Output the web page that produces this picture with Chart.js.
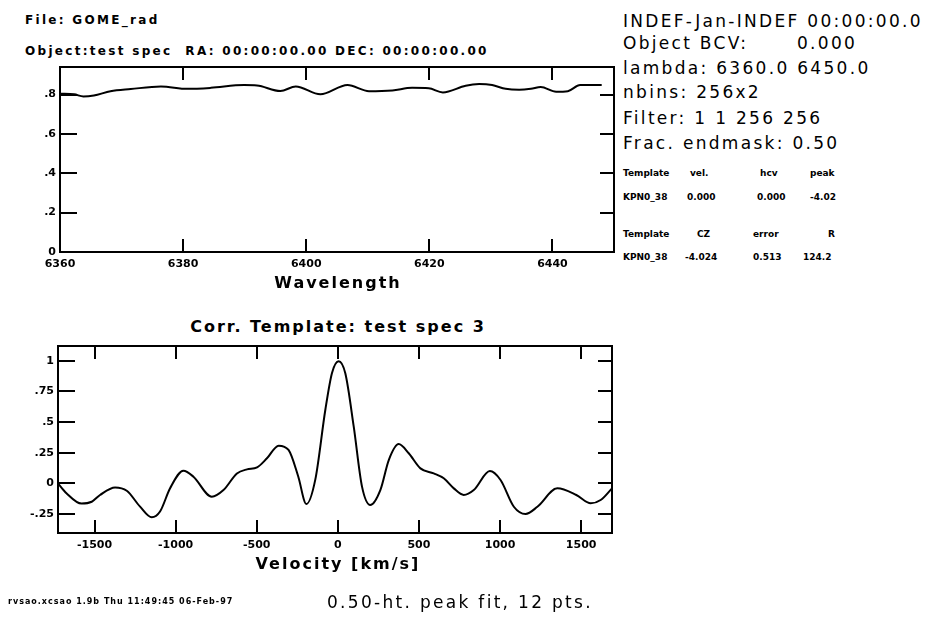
<!DOCTYPE html>
<html>
<head>
<meta charset="utf-8">
<script src="https://cdn.jsdelivr.net/npm/chart.js@4.4.1/dist/chart.umd.min.js"></script>
<style>
  html, body { margin: 0; padding: 0; background: #fff; }
  #page { position: relative; width: 927px; height: 618px; overflow: hidden; background: #fff; color: #000; }
  #page canvas { position: absolute; left: 0; }
  .t { position: absolute; white-space: pre; line-height: 1; font-family: 'DejaVu Sans', sans-serif; }
  .big { font-size: 17px; letter-spacing: 2.3px; }
  .hdr { font-size: 12px; font-weight: bold; letter-spacing: 2.3px; }
  .tbl { font-size: 9px; font-weight: bold; }
  .lbl { font-size: 16px; font-weight: bold; letter-spacing: 2px; text-align: center; }
  .tiny { font-size: 8px; font-weight: bold; letter-spacing: 1px; }
</style>
</head>
<body>
<div id="page">
  <div class="t hdr" style="left:25px; top:14px;">File: GOME_rad</div>
  <div class="t hdr" style="left:25px; top:45px;">Object:test spec  RA: 00:00:00.00 DEC: 00:00:00.00</div>

  <div class="t big" style="left:623px; top:13px;">INDEF-Jan-INDEF 00:00:00.0</div>
  <div class="t big" style="left:623px; top:35px;">Object BCV:</div>
  <div class="t big" style="left:797px; top:35px;">0.000</div>
  <div class="t big" style="left:623px; top:60px;">lambda: 6360.0 6450.0</div>
  <div class="t big" style="left:623px; top:84px;">nbins: 256x2</div>
  <div class="t big" style="left:623px; top:110px;">Filter: 1 1 256 256</div>
  <div class="t big" style="left:623px; top:135px;">Frac. endmask: 0.50</div>

  <div class="t tbl" style="left:623px; top:169px;">Template</div>
  <div class="t tbl" style="left:690px; top:169px;">vel.</div>
  <div class="t tbl" style="left:760px; top:169px;">hcv</div>
  <div class="t tbl" style="left:810px; top:169px;">peak</div>
  <div class="t tbl" style="left:623px; top:193px;">KPN0_38</div>
  <div class="t tbl" style="left:687px; top:193px;">0.000</div>
  <div class="t tbl" style="left:757px; top:193px;">0.000</div>
  <div class="t tbl" style="left:810px; top:193px;">-4.02</div>
  <div class="t tbl" style="left:623px; top:230px;">Template</div>
  <div class="t tbl" style="left:697px; top:230px;">CZ</div>
  <div class="t tbl" style="left:753px; top:230px;">error</div>
  <div class="t tbl" style="left:828px; top:230px;">R</div>
  <div class="t tbl" style="left:623px; top:253px;">KPN0_38</div>
  <div class="t tbl" style="left:685px; top:253px;">-4.024</div>
  <div class="t tbl" style="left:753px; top:253px;">0.513</div>
  <div class="t tbl" style="left:803px; top:253px;">124.2</div>

  <canvas id="specChart" width="640" height="300" style="top:0px;"></canvas>
  <div class="t lbl" style="left:0px; width:676px; top:275px;">Wavelength</div>

  <div class="t lbl" style="left:0px; width:676px; top:319px;">Corr. Template: test spec 3</div>
  <canvas id="corrChart" width="640" height="300" style="top:300px;"></canvas>
  <div class="t lbl" style="left:0px; width:676px; top:556px;">Velocity [km/s]</div>

  <div class="t tiny" style="left:8px; top:598px;">rvsao.xcsao 1.9b Thu 11:49:45 06-Feb-97</div>
  <div class="t big" style="left:327px; top:594px;">0.50-ht. peak fit, 12 pts.</div>
</div>

<script>
// spectrum (upper panel)
const wavelength = [6360.0, 6362.3, 6363.8, 6365.5, 6368.2, 6371.5, 6376.4, 6380.7, 6384.5, 6389.9,
  6392.0, 6395.8, 6398.3, 6402.3, 6406.7, 6410.2, 6414.0, 6417.2, 6419.9, 6422.2,
  6425.9, 6428.1, 6430.2, 6432.4, 6434.6, 6436.5, 6438.1, 6440.6, 6442.5, 6444.5, 6448.0];
const flux = [0.804, 0.801, 0.790, 0.795, 0.817, 0.828, 0.841, 0.829, 0.834, 0.848,
  0.846, 0.818, 0.841, 0.801, 0.848, 0.817, 0.821, 0.834, 0.832, 0.811,
  0.845, 0.853, 0.848, 0.829, 0.824, 0.829, 0.838, 0.814, 0.817, 0.848, 0.848];

// cross-correlation (lower panel)
const velocity = [-1725, -1673, -1580, -1517, -1466, -1373, -1301, -1219, -1147, -1096,
  -1034, -952, -890, -777, -705, -622, -560, -498, -437, -365,
  -304, -245, -194, -139, -77, -36, 5, 46, 98, 149,
  200, 262, 314, 375, 437, 509, 591, 653, 715, 776,
  838, 937, 1003, 1085, 1157, 1230, 1353, 1470, 1559, 1620, 1690];
const correlation = [0.00, -0.08, -0.165, -0.15, -0.095, -0.033, -0.06, -0.19, -0.277, -0.23,
  -0.04, 0.103, 0.054, -0.109, -0.055, 0.081, 0.114, 0.13, 0.204, 0.307,
  0.272, 0.06, -0.169, 0.03, 0.6, 0.9, 0.995, 0.897, 0.462, -0.027,
  -0.177, -0.055, 0.19, 0.32, 0.245, 0.122, 0.081, 0.041, -0.041, -0.095,
  -0.055, 0.10, 0.027, -0.191, -0.25, -0.191, -0.041, -0.095, -0.163, -0.136, -0.041];

// tick values
const specXTicks = [6360, 6380, 6400, 6420, 6440];
const specYTicks = [0, 0.2, 0.4, 0.6, 0.8];
const corrXTicks = [-1500, -1000, -500, 0, 500, 1000, 1500];
const corrYTicks = [-0.25, 0, 0.25, 0.5, 0.75, 1];

Chart.defaults.font.family = "'DejaVu Sans', sans-serif";
Chart.defaults.color = '#000';

function shortLabel(v) {
  return String(Number(v.toFixed(2))).replace(/^(-?)0\./, '$1.');
}

// frame box plus inward tick marks on all four sides
const innerTicks = {
  id: 'innerTicks',
  afterDraw(chart, args, opts) {
    const { ctx, chartArea: a } = chart;
    const x = chart.scales.x;
    const y = chart.scales.y;
    ctx.save();
    ctx.strokeStyle = '#000';
    ctx.lineWidth = 2;
    ctx.strokeRect(a.left, a.top, a.right - a.left, a.bottom - a.top);
    ctx.beginPath();
    x.ticks.forEach((t) => {
      const px = Math.round(x.getPixelForValue(t.value));
      ctx.moveTo(px, a.bottom);
      ctx.lineTo(px, a.bottom - opts.xLen);
      ctx.moveTo(px, a.top);
      ctx.lineTo(px, a.top + opts.xLen);
    });
    y.ticks.forEach((t) => {
      const py = Math.round(y.getPixelForValue(t.value));
      ctx.moveTo(a.left, py);
      ctx.lineTo(a.left + opts.yLen, py);
      ctx.moveTo(a.right, py);
      ctx.lineTo(a.right - opts.yLenRight, py);
    });
    ctx.stroke();
    ctx.restore();
  },
};

function makePlot(canvasId, xs, ys, cfg) {
  const tickFont = { size: 11, weight: 'bold' };
  return new Chart(document.getElementById(canvasId), {
    type: 'line',
    data: {
      datasets: [{
        data: xs.map((v, i) => ({ x: v, y: ys[i] })),
        borderColor: '#000',
        borderWidth: 2,
        pointRadius: 0,
        cubicInterpolationMode: 'monotone',
        fill: false,
      }],
    },
    options: {
      responsive: false,
      animation: false,
      events: [],
      layout: { padding: { top: cfg.top, right: cfg.right, left: 0, bottom: 0 } },
      plugins: {
        legend: { display: false },
        tooltip: { enabled: false },
        innerTicks: { xLen: 13, yLen: 17, yLenRight: 14 },
      },
      scales: {
        x: {
          type: 'linear',
          min: cfg.xMin,
          max: cfg.xMax,
          afterBuildTicks: (s) => { s.ticks = cfg.xTicks.map((v) => ({ value: v })); },
          afterFit: (s) => { s.height = cfg.xHeight; },
          grid: { display: false, drawTicks: false },
          border: { display: false },
          ticks: { font: tickFont, padding: 6, maxRotation: 0, autoSkip: false, callback: (v) => String(v) },
        },
        y: {
          min: cfg.yMin,
          max: cfg.yMax,
          afterBuildTicks: (s) => { s.ticks = cfg.yTicks.map((v) => ({ value: v })); },
          afterFit: (s) => { s.width = cfg.yWidth; },
          grid: { display: false, drawTicks: false },
          border: { display: false },
          ticks: { font: tickFont, padding: 4, autoSkip: false, callback: (v) => shortLabel(v) },
        },
      },
    },
    plugins: [innerTicks],
  });
}

makePlot('specChart', wavelength, flux, {
  top: 67, right: 26, yWidth: 60, xHeight: 48,
  xMin: 6360, xMax: 6450, yMin: 0, yMax: 0.94,
  xTicks: specXTicks, yTicks: specYTicks,
});

makePlot('corrChart', velocity, correlation, {
  top: 46, right: 28, yWidth: 58, xHeight: 67,
  xMin: -1725, xMax: 1690, yMin: -0.405, yMax: 1.12,
  xTicks: corrXTicks, yTicks: corrYTicks,
});
</script>
</body>
</html>
